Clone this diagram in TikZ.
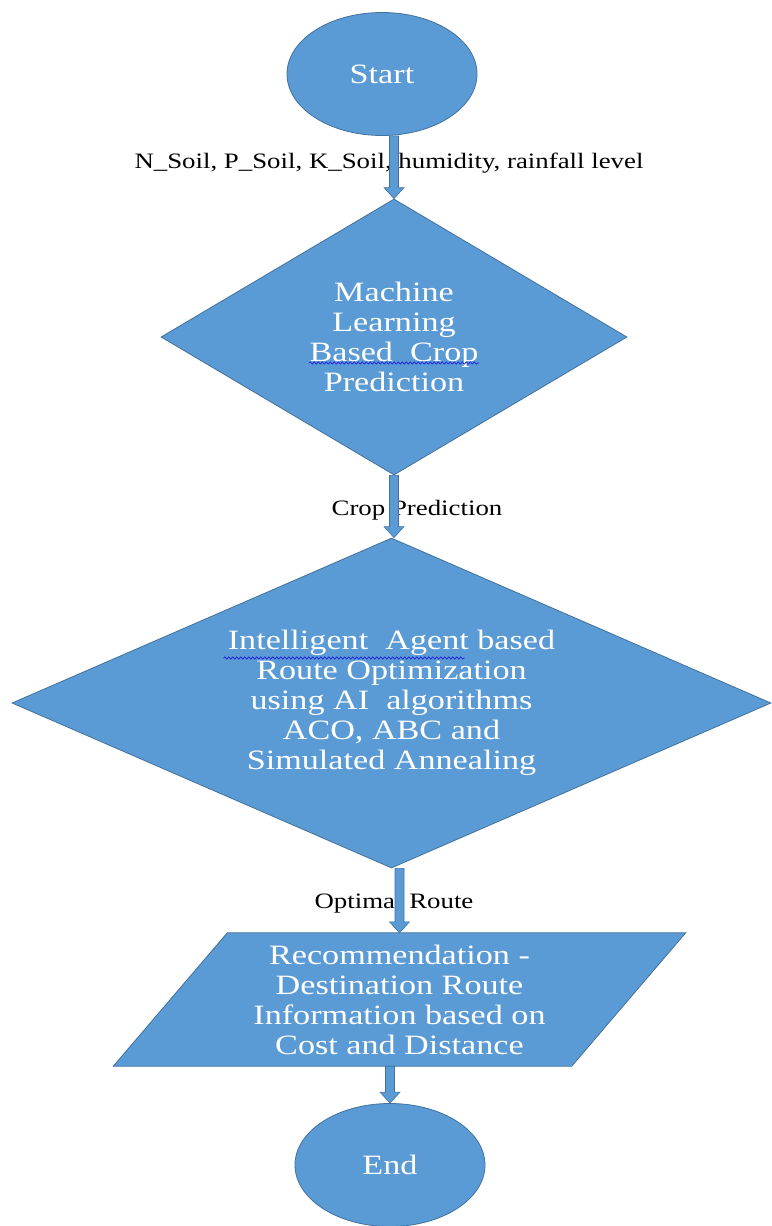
\documentclass[tikz,border=0pt]{standalone}
\usepackage{fontspec}
\setmainfont{Liberation Serif}[FakeStretch=1.22]
\usetikzlibrary{shapes.geometric,calc,decorations.pathmorphing,backgrounds}
\definecolor{shapefill}{HTML}{5B9BD5}
\definecolor{shapeline}{HTML}{41719C}
\definecolor{squigblue}{HTML}{2020E0}
\newcommand\flowarrow[3]{%
  \path[fill=shapefill, draw=shapeline, line width=0.6pt]
    let \p1=(#1), \p2=(#2), \p3=(#3) in
    (\x3-4.5pt,\y1) -- (\x3-4.5pt,\y2+11pt) -- (\x3-10pt,\y2+11pt) -- (\x3,\y2)
    -- (\x3+10pt,\y2+11pt) -- (\x3+4.5pt,\y2+11pt) -- (\x3+4.5pt,\y1) -- cycle;}
\begin{document}
\begin{tikzpicture}[x=1pt,y=-1pt,
  shapebox/.style={fill=shapefill, draw=shapeline, line width=0.8pt, text=white,
    font=\fontsize{28}{30}\selectfont, align=center, inner sep=0pt},
  terminal/.style={shapebox, ellipse, minimum width=190pt, minimum height=123pt},
  decision/.style={shapebox, diamond},
  flowlabel/.style={font=\fontsize{22}{24}\selectfont, text=black, inner sep=0pt},
  squiggle/.style={draw=squigblue, line width=0.7pt, decorate,
    decoration={snake, amplitude=1.1pt, segment length=4pt}},
]
\useasboundingbox (0,0) rectangle (771,1226);

% labels (drawn first, the connector shafts cover parts of them)
\node[flowlabel] (lab1) at (389,163) {N\_Soil, P\_Soil, K\_Soil, humidity, rainfall level};
\node[flowlabel] (lab2) at (417,510) {Crop Prediction};
\node[flowlabel] (lab3) at (394,903) {Optimal Route};

% shapes
\node[terminal] (start) at (382,74) {Start};
\node[decision, aspect=1.69, minimum width=466pt, minimum height=276pt] (ml) at (394,337)
  {Machine\\Learning\\Based\ \ Crop\\Prediction};
\node[decision, aspect=2.3, minimum width=759pt, minimum height=330pt] (route) at (391.5,703)
  {Intelligent\ \ Agent based\\Route Optimization\\using AI\ \ algorithms\\ACO, ABC and\\Simulated Annealing};
\node[text=white, font=\fontsize{28}{30}\selectfont, align=center,
  minimum width=458pt, minimum height=133pt, inner sep=0pt] (rec) at (399.5,999.5)
  {Recommendation -\\Destination Route\\Information based on\\Cost and Distance};
\begin{pgfonlayer}{background}
  \draw[fill=shapefill, draw=shapeline, line width=0.8pt]
    ($(rec.north west)+(57,0)$) -- ($(rec.north east)+(57,0)$)
    -- ($(rec.south east)+(-57,0)$) -- ($(rec.south west)+(-57,0)$) -- cycle;
\end{pgfonlayer}
\node[terminal] (end) at (390,1165) {End};

% spell-check squiggles
\draw[squiggle] ($(ml.center)+(-85,26)$) -- ($(ml.center)+(85,26)$);
\draw[squiggle] ($(route.center)+(-168,-45)$) -- ($(route.center)+(73,-45)$);

% connectors
\flowarrow{start.south}{ml.north}{ml.north}
\flowarrow{ml.south}{route.north}{ml.south}
\flowarrow{route.south}{rec.north}{rec.north}
\flowarrow{rec.south}{end.north}{end.north}
\end{tikzpicture}
\end{document}
